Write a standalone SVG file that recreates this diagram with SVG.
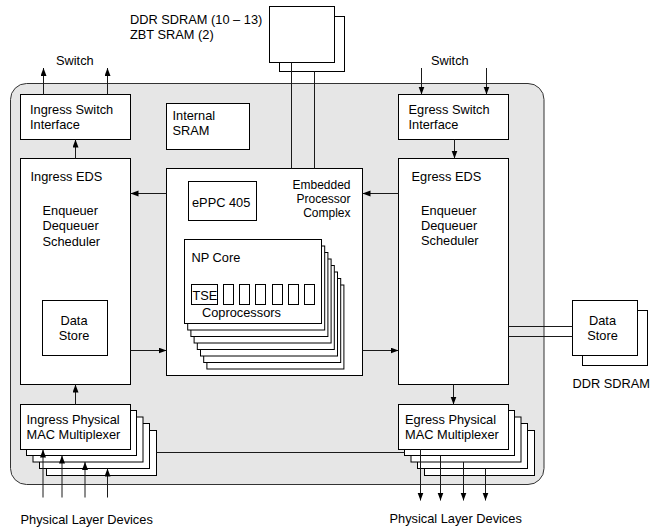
<svg xmlns="http://www.w3.org/2000/svg" width="650" height="530" viewBox="0 0 650 530">
<style>
text{font-family:"Liberation Sans",Arial,Helvetica,sans-serif;font-size:12.8px;fill:#000}
.b{fill:#fff;stroke:#000;stroke-width:1}
.w{fill:none;stroke:#1a1a1a;stroke-width:1}
.a{fill:none;stroke:#1a1a1a;stroke-width:1;marker-end:url(#ah)}
.m{text-anchor:middle}
.e{text-anchor:end;font-size:12px}
</style>
<defs>
<marker id="ah" markerUnits="userSpaceOnUse" markerWidth="9" markerHeight="7" refX="8" refY="3" orient="auto">
<path d="M0,0 L8,3 L0,6 z" fill="#000"/>
</marker>
</defs>
<rect id="chip" x="10.5" y="83.5" width="533.5" height="401" rx="16" ry="16" fill="#e6e6e6" stroke="#333" stroke-width="1"/>

<g id="ddr-top">
<rect class="b" x="279.5" y="16.5" width="65" height="55"/>
<rect class="b" x="269.5" y="6.5" width="65" height="56"/>
<text x="130" y="23.5">DDR SDRAM (10 – 13)</text>
<text x="130" y="38.5">ZBT SRAM (2)</text>
</g>

<g id="ingress-switch-if">
<rect class="b" x="20.5" y="94.5" width="110" height="45"/>
<text x="30" y="113.5">Ingress Switch</text>
<text x="30" y="129">Interface</text>
</g>
<text id="switch-left" x="56" y="65">Switch</text>

<g id="internal-sram">
<rect class="b" x="166.5" y="103.5" width="83" height="46"/>
<text x="172.5" y="120">Internal</text>
<text x="172.5" y="135">SRAM</text>
</g>

<g id="egress-switch-if">
<rect class="b" x="398.5" y="94.5" width="110" height="45"/>
<text x="408.5" y="113.5">Egress Switch</text>
<text x="408.5" y="129">Interface</text>
</g>
<text id="switch-right" x="431" y="65">Switch</text>

<g id="ingress-eds">
<rect class="b" x="20.5" y="158.5" width="110" height="226"/>
<text x="30.5" y="180.5">Ingress EDS</text>
<text x="42.5" y="215">Enqueuer</text>
<text x="42.5" y="230">Dequeuer</text>
<text x="42.5" y="245.5">Scheduler</text>
</g>
<g id="ingress-data-store">
<rect class="b" x="42.5" y="300.5" width="65" height="55"/>
<text class="m" x="74" y="324.5">Data</text>
<text class="m" x="74" y="339.5">Store</text>
</g>

<g id="egress-eds">
<rect class="b" x="398.5" y="158.5" width="110" height="226"/>
<text x="411.5" y="180.5">Egress EDS</text>
<text x="421" y="214.5">Enqueuer</text>
<text x="421" y="229.5">Dequeuer</text>
<text x="421" y="245">Scheduler</text>
</g>

<g id="epc">
<rect class="b" x="166.5" y="168.5" width="196" height="207"/>
<text class="e" x="350.5" y="189">Embedded</text>
<text class="e" x="350.5" y="203">Processor</text>
<text class="e" x="350.5" y="217">Complex</text>
</g>
<g id="eppc">
<rect class="b" x="188.5" y="181.5" width="68" height="39"/>
<text x="192" y="207">ePPC 405</text>
</g>

<g id="np-core">
<rect class="b" x="206.9" y="285" width="137" height="84"/>
<rect class="b" x="203.7" y="278.5" width="137" height="84"/>
<rect class="b" x="200.5" y="272" width="137" height="84"/>
<rect class="b" x="197.3" y="265.5" width="137" height="84"/>
<rect class="b" x="194.1" y="259" width="137" height="84"/>
<rect class="b" x="190.9" y="252.5" width="137" height="84"/>
<rect class="b" x="187.7" y="246" width="137" height="84"/>
<rect class="b" x="184.5" y="239.5" width="137" height="84"/>
<text x="191.5" y="261.5">NP Core</text>
<rect class="b" x="191.5" y="284.5" width="26" height="20"/>
<text x="192.5" y="300" font-size="12.3">TSE</text>
<rect class="b" x="223.5" y="284.5" width="10" height="20"/>
<rect class="b" x="239.5" y="284.5" width="10" height="20"/>
<rect class="b" x="255.5" y="284.5" width="10" height="20"/>
<rect class="b" x="272.5" y="284.5" width="10" height="20"/>
<rect class="b" x="288.5" y="284.5" width="10" height="20"/>
<rect class="b" x="304.5" y="284.5" width="10" height="20"/>
<text x="202" y="316.5">Coprocessors</text>
</g>

<g id="ingress-pmm">
<rect class="b" x="46.5" y="430.5" width="110" height="45"/>
<rect class="b" x="39.5" y="423.5" width="110" height="45"/>
<rect class="b" x="33" y="417" width="110" height="45"/>
<rect class="b" x="26.5" y="410.5" width="110" height="45"/>
<rect class="b" x="20.5" y="404.5" width="110" height="45"/>
<text x="26.5" y="424.3">Ingress Physical</text>
<text x="26.5" y="439.3">MAC Multiplexer</text>
</g>

<g id="egress-pmm">
<rect class="b" x="424.5" y="430.5" width="110" height="45"/>
<rect class="b" x="417.5" y="423.5" width="110" height="45"/>
<rect class="b" x="411" y="417" width="110" height="45"/>
<rect class="b" x="404.5" y="410.5" width="110" height="45"/>
<rect class="b" x="398.5" y="404.5" width="110" height="45"/>
<text x="405" y="424.3">Egress Physical</text>
<text x="405" y="439.3">MAC Multiplexer</text>
</g>

<g id="ext-data-store">
<rect class="b" x="582.5" y="310.5" width="65" height="55"/>
<rect class="b" x="572.5" y="300.5" width="65" height="55"/>
<text class="m" x="602.5" y="324.5">Data</text>
<text class="m" x="602.5" y="340">Store</text>
<text x="572.5" y="388">DDR SDRAM</text>
</g>

<text id="phy-left" x="20.5" y="523.5">Physical Layer Devices</text>
<text id="phy-right" x="389.5" y="523">Physical Layer Devices</text>

<g id="connectors">
<line class="a" x1="43.5" y1="94.5" x2="43.5" y2="68"/>
<line class="a" x1="107.5" y1="94.5" x2="107.5" y2="68"/>
<line class="a" x1="421.5" y1="68" x2="421.5" y2="94.5"/>
<line class="a" x1="486.5" y1="68" x2="486.5" y2="94.5"/>
<line class="a" x1="75.5" y1="158.5" x2="75.5" y2="139.5"/>
<line class="a" x1="454.5" y1="139.5" x2="454.5" y2="158.5"/>
<line class="a" x1="166.5" y1="193.5" x2="130.5" y2="193.5"/>
<line class="a" x1="398.5" y1="193.5" x2="362.5" y2="193.5"/>
<line class="a" x1="130.5" y1="350.5" x2="166.5" y2="350.5"/>
<line class="a" x1="362.5" y1="350.5" x2="398.5" y2="350.5"/>
<line class="a" x1="75.5" y1="404.5" x2="75.5" y2="384.5"/>
<line class="a" x1="453.5" y1="384.5" x2="453.5" y2="404.5"/>
<line class="a" x1="43" y1="497.5" x2="43" y2="449.5"/>
<line class="a" x1="62" y1="497.5" x2="62" y2="455.5"/>
<line class="a" x1="85" y1="497.5" x2="85" y2="462"/>
<line class="a" x1="107.5" y1="497.5" x2="107.5" y2="468.5"/>
<line class="a" x1="420.5" y1="449.5" x2="420.5" y2="500.5"/>
<line class="a" x1="440.5" y1="455.5" x2="440.5" y2="500.5"/>
<line class="a" x1="463.5" y1="462" x2="463.5" y2="500.5"/>
<line class="a" x1="485.5" y1="468.5" x2="485.5" y2="500.5"/>
<line class="w" x1="291.5" y1="62.5" x2="291.5" y2="168.5"/>
<line class="w" x1="314.5" y1="71.5" x2="314.5" y2="168.5"/>
<line class="w" x1="508.5" y1="326.5" x2="572.5" y2="326.5"/>
<line class="w" x1="508.5" y1="336.5" x2="572.5" y2="336.5"/>
<line class="w" x1="156.5" y1="452.5" x2="404.5" y2="452.5"/>
</g>
</svg>
